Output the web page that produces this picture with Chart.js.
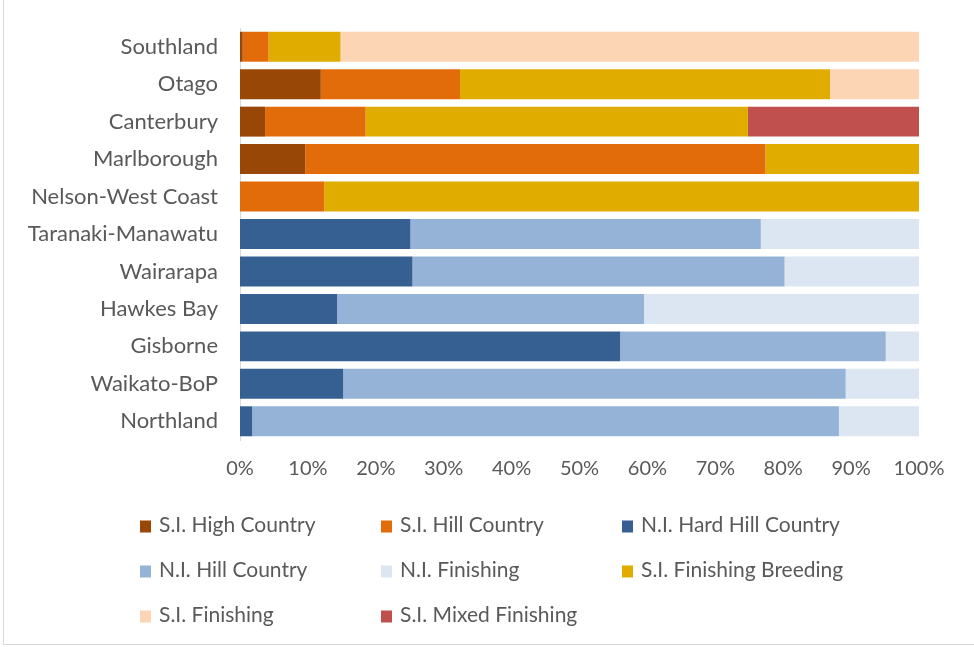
<!DOCTYPE html>
<html>
<head>
<meta charset="utf-8">
<script src="https://cdn.jsdelivr.net/npm/chart.js@4"></script>
<style>
  body { margin: 0; background: #fff; }
  #wrap { position: relative; width: 974px; height: 647px; }
  #frame { position: absolute; left: 3px; top: 0; width: 980px; height: 644px; border-left: 1px solid #d9d9d9; border-bottom: 1px solid #d9d9d9; }
  #chart { position: absolute; left: 0; top: 0; }
  #legend { position: absolute; left: 0; top: 0; width: 974px; height: 647px; pointer-events: none;
            font-family: Lato, sans-serif; font-size: 21px; color: #595959; }
  .item { position: absolute; white-space: nowrap; transform: translateY(-50%); }
  .box { display: inline-block; width: 11px; height: 12px; margin-right: 8px; vertical-align: -1px; }
</style>
</head>
<body>
<div id="wrap">
  <div id="frame"></div>
  <canvas id="chart" width="974" height="647"></canvas>
  <div id="legend"></div>
</div>
<script>
// Regions, top to bottom
const regions = ['Southland', 'Otago', 'Canterbury', 'Marlborough', 'Nelson-West Coast',
  'Taranaki-Manawatu', 'Wairarapa', 'Hawkes Bay', 'Gisborne', 'Waikato-BoP', 'Northland'];

// Share of farms by class (%), same order as regions
const siHighCountry   = [0.4, 11.9, 3.7, 9.6, 0, 0, 0, 0, 0, 0, 0];
const siHillCountry   = [3.8, 20.5, 14.8, 67.8, 12.4, 0, 0, 0, 0, 0, 0];
const niHardHill      = [0, 0, 0, 0, 0, 25.1, 25.4, 14.3, 56.0, 15.2, 1.8];
const niHillCountry   = [0, 0, 0, 0, 0, 51.6, 54.8, 45.2, 39.1, 74.0, 86.4];
const niFinishing     = [0, 0, 0, 0, 0, 23.3, 19.8, 40.5, 4.9, 10.8, 11.8];
const siFinBreeding   = [10.6, 54.5, 56.3, 22.6, 87.6, 0, 0, 0, 0, 0, 0];
const siFinishing     = [85.2, 13.1, 0, 0, 0, 0, 0, 0, 0, 0, 0];
const siMixedFinish   = [0, 0, 25.2, 0, 0, 0, 0, 0, 0, 0, 0];

const seriesNames = ['S.I. High Country', 'S.I. Hill Country', 'N.I. Hard Hill Country',
  'N.I. Hill Country', 'N.I. Finishing', 'S.I. Finishing Breeding', 'S.I. Finishing', 'S.I. Mixed Finishing'];
const seriesData = [siHighCountry, siHillCountry, niHardHill, niHillCountry,
  niFinishing, siFinBreeding, siFinishing, siMixedFinish];
const colors = ['#994706', '#E36C0A', '#366092', '#95B3D7', '#DCE6F2', '#E0AC00', '#FCD5B5', '#C0504D'];

const xTicks = [0, 10, 20, 30, 40, 50, 60, 70, 80, 90, 100];

const textColor = '#595959';

const chart = new Chart(document.getElementById('chart').getContext('2d'), {
  type: 'bar',
  data: {
    labels: regions,
    datasets: seriesNames.map((name, i) => ({
      label: name,
      data: seriesData[i],
      backgroundColor: colors[i],
      borderWidth: 0,
      barPercentage: 0.8,
      categoryPercentage: 1.0
    }))
  },
  options: {
    indexAxis: 'y',
    responsive: false,
    animation: false,
    layout: { padding: { top: 28, right: 55, bottom: 167, left: 0 } },
    plugins: { legend: { display: false }, tooltip: { enabled: false } },
    scales: {
      x: {
        stacked: true,
        min: 0,
        max: 100,
        afterBuildTicks: s => { s.ticks = xTicks.map(v => ({ value: v })); },
        afterFit: s => { s.height = 40; s.paddingLeft = 0; s.paddingRight = 0; },
        grid: { display: false, drawTicks: false },
        border: { display: false },
        ticks: { color: textColor, font: { family: 'Lato, sans-serif', size: 20 }, padding: 17, callback: v => v + '%' }
      },
      y: {
        stacked: true,
        afterFit: s => { s.width = 240; s.paddingTop = 0; s.paddingBottom = 0; },
        grid: { display: false, drawTicks: false },
        border: { display: true, color: '#d9d9d9', width: 1 },
        ticks: { color: textColor, font: { family: 'Lato, sans-serif', size: 22 }, padding: 22 }
      }
    }
  }
});

// Legend laid out in three columns, like the original
const legendCols = [140, 381, 622];
const legendRows = [523, 568, 613];
const legend = document.getElementById('legend');
seriesNames.forEach((name, i) => {
  const el = document.createElement('div');
  el.className = 'item';
  el.style.left = legendCols[i % 3] + 'px';
  el.style.top = legendRows[Math.floor(i / 3)] + 'px';
  el.innerHTML = '<span class="box" style="background:' + colors[i] + '"></span>' + name;
  legend.appendChild(el);
});
</script>
</body>
</html>
